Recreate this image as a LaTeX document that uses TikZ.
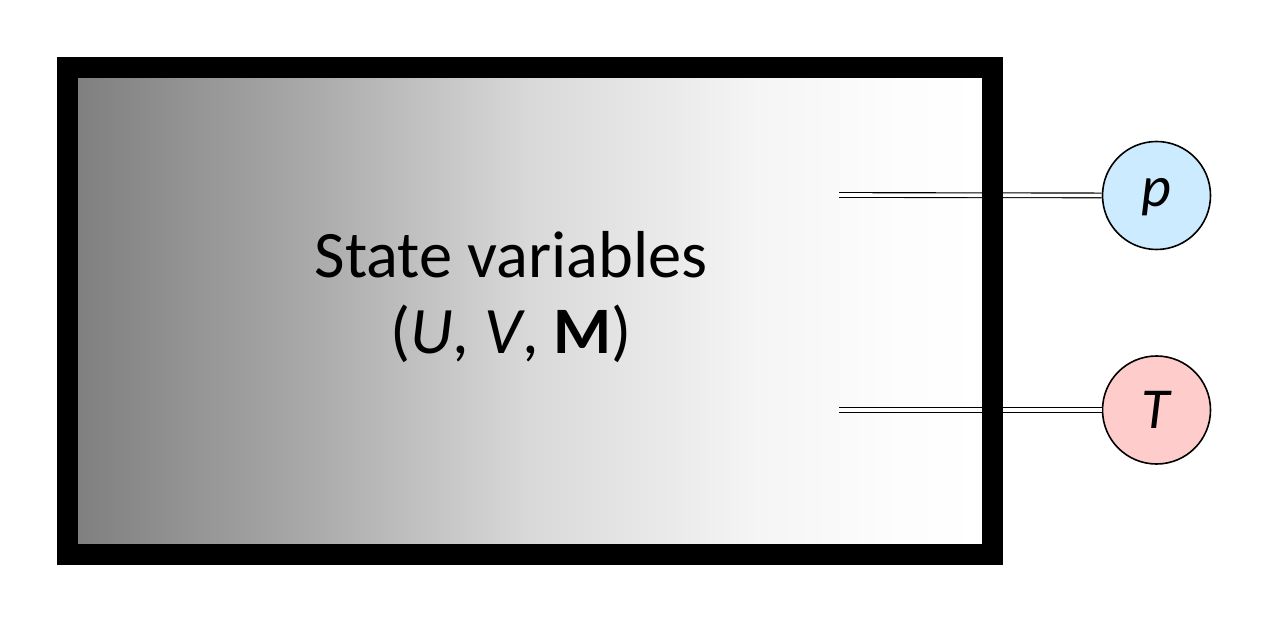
\documentclass[tikz,border=0pt]{standalone}
\usepackage{fontspec}
\setmainfont{Carlito}
\usepackage{tikz}
\definecolor{pblue}{HTML}{CCEBFF}
\definecolor{tpink}{HTML}{FFCCCC}
\pgfdeclarehorizontalshading{boxfade}{100bp}{color(0bp)=(black!50); color(25bp)=(black!50); color(37.5bp)=(black!34); color(50bp)=(black!15); color(62.5bp)=(black!4); color(70bp)=(black!1); color(75bp)=(white); color(100bp)=(white)}
\tikzstyle{gauge} = [circle, draw, line width=0.8pt, minimum size=54pt, inner sep=0pt, font=\fontsize{29}{32}\selectfont]
\tikzstyle{link} = [draw, line width=0.55pt, double, double distance=1.8pt]

\begin{document}
\begin{tikzpicture}[x=0.5pt, y=-0.5pt]
	\useasboundingbox (0,0) rectangle (1278,630);
	
	\shade[shading=boxfade] (78,78) rectangle (982,544);
	
	\coordinate (pin) at (839,195);
	\coordinate (tin) at (839,410);
	\node[gauge, fill=pblue] (p) at (1156.5,195.5) {\raisebox{-5.75pt}[0pt][0pt]{\textit{p}}};
	\node[gauge, fill=tpink] (t) at (1156.5,410) {\textit{T}};
	
	\draw[link] (pin) -- (p);
	\draw[link] (tin) -- (t);
	
	\draw[line width=10.5pt] (67.5,67.5) rectangle (992.5,554.5);
	
	\node[align=center, font=\fontsize{33.2}{38}\selectfont] (state) at (511,297) {State variables\\(\textit{U}, \textit{V}, \textbf{M})};
\end{tikzpicture}
\end{document}
